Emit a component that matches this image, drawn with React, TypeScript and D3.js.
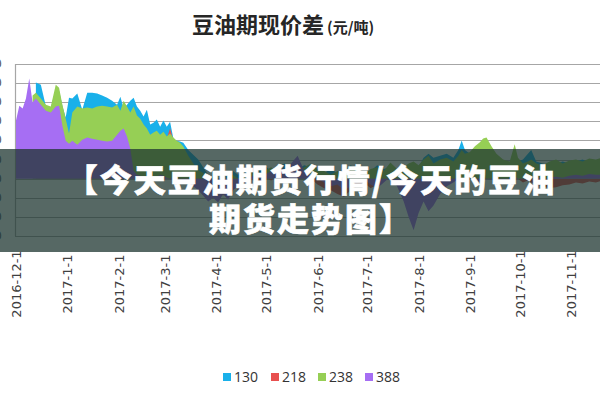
import React, { Component } from 'react';
import * as d3 from 'd3';

// trading days (sampled) on the x axis
const dates = [
  '2016-12-01', '2016-12-03', '2016-12-05', '2016-12-07', '2016-12-09', '2016-12-11', '2016-12-13', '2016-12-16', '2016-12-19', '2016-12-22', '2016-12-25', '2016-12-27', '2016-12-29', '2016-12-31',
  '2017-01-02', '2017-01-04', '2017-01-07', '2017-01-10', '2017-01-13', '2017-01-16', '2017-01-19', '2017-01-22', '2017-01-25', '2017-01-28', '2017-01-31',
  '2017-02-02', '2017-02-04', '2017-02-06', '2017-02-08', '2017-02-10', '2017-02-12', '2017-02-14', '2017-02-16', '2017-02-18', '2017-02-20', '2017-02-22', '2017-02-24', '2017-02-26', '2017-02-28',
  '2017-03-02', '2017-03-04', '2017-03-06', '2017-03-08', '2017-03-10', '2017-03-12', '2017-03-15', '2017-03-18', '2017-03-21', '2017-03-24', '2017-03-27', '2017-03-30',
  '2017-04-02', '2017-04-05', '2017-04-08', '2017-04-11', '2017-04-14', '2017-04-18', '2017-04-22', '2017-04-26', '2017-04-30',
  '2017-05-04', '2017-05-08', '2017-05-12', '2017-05-16', '2017-05-20', '2017-05-24', '2017-05-28',
  '2017-06-01', '2017-06-05', '2017-06-09', '2017-06-13', '2017-06-17', '2017-06-21', '2017-06-25', '2017-06-29',
  '2017-07-03', '2017-07-07', '2017-07-11', '2017-07-15', '2017-07-19', '2017-07-23', '2017-07-26', '2017-07-29',
  '2017-08-01', '2017-08-04', '2017-08-07', '2017-08-10', '2017-08-14', '2017-08-18', '2017-08-22', '2017-08-25', '2017-08-27', '2017-08-29',
  '2017-09-01', '2017-09-04', '2017-09-07', '2017-09-09', '2017-09-11', '2017-09-14', '2017-09-17', '2017-09-21', '2017-09-25', '2017-09-28', '2017-09-30',
  '2017-10-03', '2017-10-06', '2017-10-08', '2017-10-11', '2017-10-15', '2017-10-19', '2017-10-23', '2017-10-27', '2017-10-31',
  '2017-11-04', '2017-11-08', '2017-11-12', '2017-11-16', '2017-11-20'
];

// 130
const s130 = [
  null, null, null, null, null, null, 503, 492, 380, 370, 470, 460, 380, 320,
  424, 419, 445, 360, 450, 450, 445, 435, 424, 408, 387,
  429, 367, 387, 408, 424, 377, 356, 325, 361, 283, 293, 309, 272, 304,
  272, 298, 209, 199, 194, 188, 150, 125, 100, 60, 20, 10,
  -20, 0, 30, 40, 20, 50, 30, 50, 70,
  40, 60, 80, 60, 50, 70, 60,
  40, 30, 50, 30, 40, 70, 50, 30,
  40, 70, 50, 60, 40, 50, 70, 80,
  60, 110, 130, 110, 120, 130, 110, 150, 200, 150,
  130, 150, 170, 180, 160, 140, 110, 90, 80, 120, 90,
  100, 130, 150, 90, 80, 70, 80, 90, 80,
  90, 100, 85, 95, 100
];

// 218
const s218 = [
  null, null, null, null, null, null, 400, 380, 360, 350, 440, 430, 360, 290,
  220, 320, 350, 340, 345, 340, 350, 355, 350, 345, 360,
  330, 370, 350, 320, 350, 300, 290, 260, 245, 215, 225, 235, 215, 230,
  210, 262, 200, 185, 175, 150, 110, 70, 30, -20, -50, -80,
  -60, -90, -40, -30, -60, -20, 0, -30, 10,
  -10, 20, 0, -20, 10, 30, 0,
  -30, -50, -60, -80, -95, -60, -40, -20,
  -50, -30, 0, 20, -10, -20, 10, 20,
  0, 30, 40, 20, 50, 60, 70, 90, 110, 100,
  80, 60, 50, 40, 60, 30, 20, 0, -10, 10, 0,
  -20, -10, -20, -30, -40, -50, -45, -35, -30,
  -20, -25, -15, -20, -10
];

// 238
const s238 = [
  null, null, null, null, null, 435, 450, 419, 387, 377, 492, 476, 387, 314,
  236, 346, 377, 367, 372, 367, 377, 382, 377, 372, 387,
  356, 408, 377, 346, 377, 330, 314, 283, 262, 230, 241, 251, 230, 246,
  220, 236, 215, 199, 188, 168, 120, 80, 45, 30, 0, -30,
  -40, -20, 10, 20, 0, 30, 40, 20, 40,
  60, 30, 50, 70, 40, 60, 80,
  50, 40, 20, 40, 30, 60, 40, 20,
  50, 60, 40, 85, 50, 60, 80, 90,
  70, 100, 120, 80, 100, 110, 90, 120, 150, 130,
  140, 170, 190, 210, 215, 170, 130, 100, 90, 180, 110,
  80, 90, 100, 80, 70, 90, 100, 80, 95,
  100, 90, 105, 100, 110
];

// 388
const s388 = [
  304, 382, 367, 419, 524, 398, 419, 387, 356, 346, 377, 382, 277, 199,
  183, 199, 178, 204, 215, 209, 204, 199, 194, 199, 230,
  251, 262, 220, 157, 42, 20, 15, 10, 5, 0, -10, 10, 20, 15,
  5, 0, 10, 5, 0, -10, -20, -40, -60, -90, -120, -100,
  -125, -80, -110, -60, -40, -20, 10, 30, 20,
  40, 60, 50, 80, 120, 40, 20,
  0, -20, -40, -30, -60, -40, -20, 0,
  -30, -50, -20, 10, -40, -120, -200, -270,
  -180, -120, -170, -140, -80, -40, -20, 0, -10, 10,
  0, -10, -20, -10, 0, -5, 0, -10, 5, 10, 0,
  -5, 5, 0, 5, 0, 5, 10, 5, 15,
  20, 15, 25, 20, 20
];

const seriesNames = ['130', '218', '238', '388'];
const seriesValues = [s130, s218, s238, s388];
const seriesColors = ['#19b0ea', '#e8504f', '#96cf55', '#a66ef3'];

const yTicks = [600, 500, 400, 300, 200, 100, 0, -100, -200, -300];
const monthTicks = ['2016-12-01', '2017-01-01', '2017-02-01', '2017-03-01', '2017-04-01', '2017-05-01',
  '2017-06-01', '2017-07-01', '2017-08-01', '2017-09-01', '2017-10-01', '2017-11-01'];

const titleMain = '豆油期现价差';
const titleUnit = '(元/吨)';
const bannerLines = ['【今天豆油期货行情/今天的豆油', '期货走势图】'];

class Chart extends Component {
  private box = React.createRef<HTMLDivElement>();

  componentDidMount() {
    this.renderChart();
  }

  renderChart() {
    const el = this.box.current;
    if (el == null) return;
    d3.select(el).selectAll('*').remove();

    const width = 600, height = 400;
    const left = 15, right = 600, top = 64, bottom = 236;

    const svg = d3.select(el)
      .append('svg')
      .attr('width', width)
      .attr('height', height)
      .style('display', 'block')
      .style('background', '#fff');

    const parse = d3.timeParse('%Y-%m-%d');
    const days = dates.map(d => parse(d) as Date);

    var x = d3.scaleTime()
      .domain([parse('2016-12-01') as Date, parse('2017-11-01') as Date])
      .range([16, 571]);
    var y = d3.scaleLinear().domain([-300, 600]).range([bottom, top]);

    // title
    const t = svg.append('text')
      .attr('x', 192)
      .attr('y', 33)
      .attr('font-family', '"Noto Sans CJK SC", sans-serif')
      .attr('font-weight', 'bold')
      .attr('fill', '#262626');
    t.append('tspan').attr('font-size', 22).text(titleMain);
    t.append('tspan').attr('font-size', 15).attr('dx', 3).text(titleUnit);

    // gridlines
    svg.append('g')
      .selectAll('line')
      .data(yTicks)
      .enter()
      .append('line')
      .attr('x1', left)
      .attr('x2', right)
      .attr('y1', d => Math.round(y(d)) + 0.5)
      .attr('y2', d => Math.round(y(d)) + 0.5)
      .attr('stroke', '#a6a6a6')
      .attr('stroke-width', 1.2);
    svg.append('line')
      .attr('x1', left + 0.5).attr('x2', left + 0.5)
      .attr('y1', top).attr('y2', bottom)
      .attr('stroke', '#a6a6a6')
      .attr('stroke-width', 1.2);

    // y labels, mostly cut off by the left edge
    svg.append('g')
      .selectAll('text')
      .data(yTicks)
      .enter()
      .append('text')
      .attr('x', 2)
      .attr('y', d => y(d) + 4)
      .attr('text-anchor', 'end')
      .attr('font-family', '"DejaVu Sans", sans-serif')
      .attr('font-size', 12)
      .attr('fill', '#595959')
      .text(d => d);

    svg.append('defs').append('clipPath')
      .attr('id', 'plotClip')
      .append('rect')
      .attr('x', left)
      .attr('y', top)
      .attr('width', right - left)
      .attr('height', bottom - top);

    const areaGen = d3.area<number | null>()
      .defined(v => v != null)
      .x((_, i) => x(days[i]))
      .y0(y(0))
      .y1(v => y(v as number));

    const plot = svg.append('g').attr('clip-path', 'url(#plotClip)');
    seriesValues.forEach((vals, i) => {
      plot.append('path')
        .datum(vals)
        .attr('fill', seriesColors[i])
        .attr('d', areaGen);
    });

    // x labels, rotated
    svg.append('g')
      .selectAll('text')
      .data(monthTicks)
      .enter()
      .append('text')
      .attr('transform', d => 'translate(' + (x(parse(d) as Date) + 5) + ',284) rotate(-90)')
      .attr('text-anchor', 'middle')
      .attr('font-family', '"DejaVu Sans", sans-serif')
      .attr('font-size', 13)
      .attr('fill', '#404040')
      .text(d => d3.timeFormat('%Y-%-m-%-d')(parse(d) as Date));

    // legend
    const legendX = [223, 271, 318, 365];
    const legend = svg.append('g');
    seriesNames.forEach((name, i) => {
      legend.append('rect')
        .attr('x', legendX[i])
        .attr('y', 373)
        .attr('width', 8)
        .attr('height', 8)
        .attr('fill', seriesColors[i]);
      legend.append('text')
        .attr('x', legendX[i] + 11)
        .attr('y', 382)
        .attr('font-family', '"Open Sans", sans-serif')
        .attr('font-size', 14)
        .attr('fill', '#333')
        .text(name);
    });

    // dark banner laid over the picture
    svg.append('rect')
      .attr('x', 0)
      .attr('y', 149)
      .attr('width', width)
      .attr('height', 103)
      .attr('fill', '#1e3530')
      .attr('opacity', 0.75);

    svg.append('g')
      .selectAll('text')
      .data(bannerLines)
      .enter()
      .append('text')
      .attr('x', 311)
      .attr('y', (_, i) => 192 + i * 39)
      .attr('text-anchor', 'middle')
      .attr('font-family', '"Noto Sans CJK SC", sans-serif')
      .attr('font-weight', 900)
      .attr('font-size', 32)
      .attr('letter-spacing', 2)
      .attr('fill', '#fff')
      .attr('stroke', '#fff')
      .attr('stroke-width', 0.6)
      .text(d => d);
  }

  render() {
    return (<div ref={this.box} style={{ position: 'absolute', left: 0, top: 0 }}></div>);
  }
}

export default function App() {
  return <Chart />;
}
